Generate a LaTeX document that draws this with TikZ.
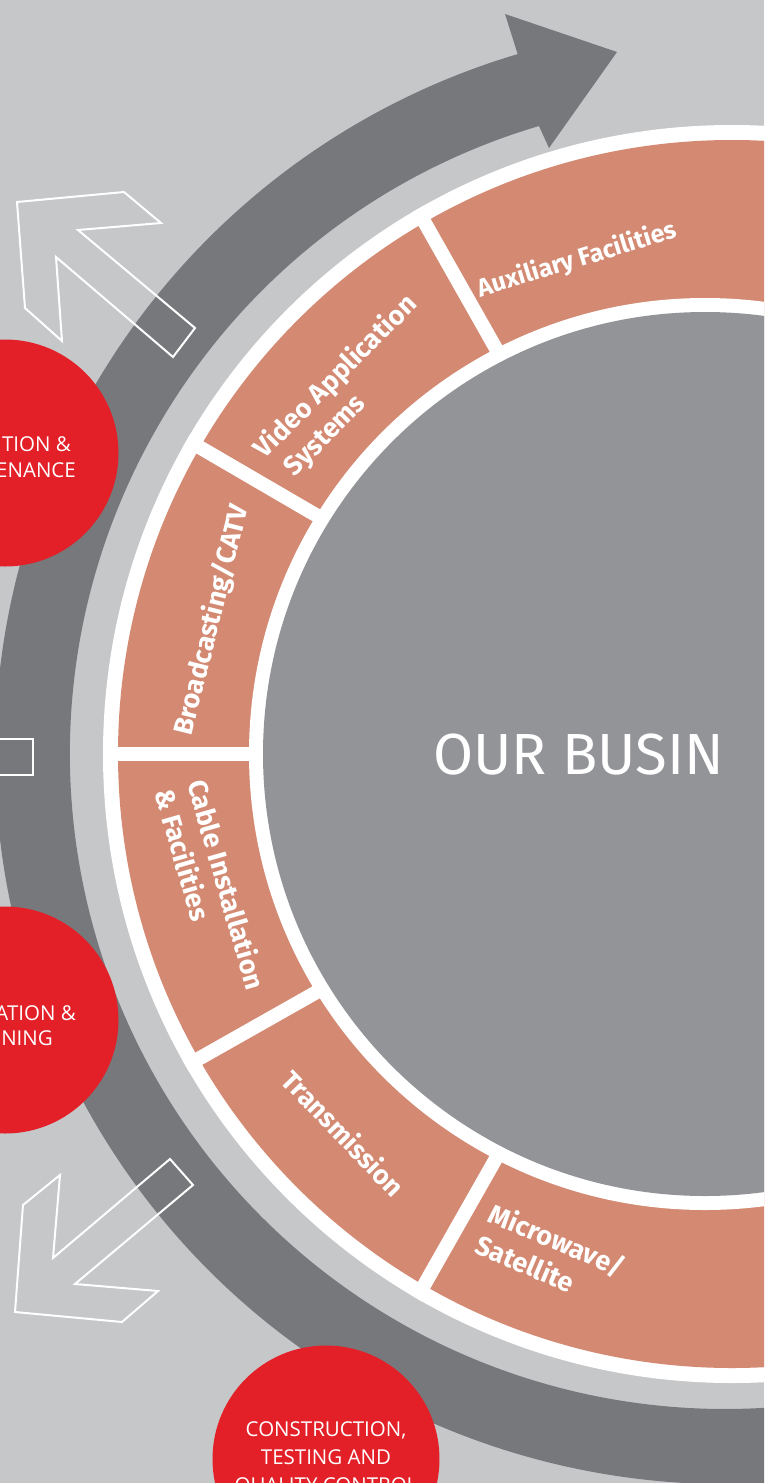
\documentclass[tikz,border=0pt]{standalone}
\usepackage{fontspec}
\setmainfont{Open Sans}
\newfontfamily\labelfont{Fira Sans}
\IfFontExistsTF{FiraSans-Light.otf}{\newfontfamily\titlefont{FiraSans-Light.otf}}{\newfontfamily\titlefont{Fira Sans}}

\definecolor{bggray}{HTML}{C6C7C9}
\definecolor{ringgray}{HTML}{77787B}
\definecolor{discgray}{HTML}{939498}
\definecolor{salmon}{HTML}{D48A72}
\definecolor{bizred}{HTML}{E31F28}

\tikzset{
  seglabel/.style={text=white, font=\labelfont\bfseries\fontsize{27}{34}\selectfont, inner sep=0pt},
  redtext/.style={text=white, font=\fontsize{20.5}{28}\selectfont, inner sep=0pt},
  redcircle/.style={circle, fill=bizred, minimum size=227pt, inner sep=0pt},
  divider/.style={white, line width=14pt},
  outline/.style={white, line width=2pt}
}

\begin{document}
\begin{tikzpicture}[x=1pt, y=-1pt]
\useasboundingbox (0,0) rectangle (764,1483);
\clip (0,0) rectangle (764,1483);
\fill[bggray] (0,0) rectangle (764,1483);

% big curved arrow
\fill[ringgray] ([shift={(725,754)}]60:730) arc[start angle=60, end angle=253.5, radius=730]
  -- (505,14) -- (617,52) -- (549,148)
  -- ([shift={(725,754)}]253.5:655) arc[start angle=253.5, end angle=60, radius=655] -- cycle;

% hollow arrows on the left
\draw[outline] (17,202) -- (124,192) -- (161,223) -- (78,230) -- (195,328)
  -- (173,357) -- (56,257) -- (62,341) -- (25,308) -- cycle;
\draw[outline] (170,1159) -- (193,1185) -- (75,1284) -- (158,1291) -- (122,1322)
  -- (15,1312) -- (23,1205) -- (60,1175) -- (53,1258) -- cycle;
\draw[outline] (-5,739) rectangle (33,775);

% red circles
\node[redcircle] (omc) at (5,453) {};
\node[redcircle] (edc) at (5,1020) {};
\node[redcircle, redtext, align=center] (qc) at (326,1459) {CONSTRUCTION,\\TESTING AND\\QUALITY CONTROL};
\node[redtext, anchor=base east] (om1) at (71,451) {TION \&};
\node[redtext, anchor=base east] (om2) at (76,477) {ENANCE};
\node[redtext, anchor=base east] (ed1) at (76,1020) {ATION \&};
\node[redtext, anchor=base east] (ed2) at (53,1045) {INING};

% segment ring
\fill[white] (732,754) circle (629);
\fill[salmon] (732,754) circle (614);
\begin{scope}
\clip (732,754) circle (629);
\draw[divider] (400,179) -- (520,391);
\draw[divider] (170,430) -- (345,532);
\draw[divider] (90,754) -- (280,754);
\draw[divider] (170,1075) -- (345,976);
\draw[divider] (410,1310) -- (515,1125);
\end{scope}
\fill[white] (705,754) circle (456);
\fill[discgray] (705,754) circle (442);

\node[seglabel, rotate=17, font=\labelfont\bfseries\fontsize{25}{32}\selectfont] (aux) at (577,260) {Auxiliary Facilities};
\node[seglabel, rotate=45, align=left] (video) at (348,389) {Video Application\\\hspace{8pt}Systems};
\node[seglabel, rotate=76] (catv) at (212,620) {Broadcasting/CATV};
\node[seglabel, rotate=-74, align=left] (cable) at (211,889) {Cable Installation\\\& Facilities};
\node[seglabel, rotate=-46] (trans) at (344,1133) {Transmission};
\node[seglabel, rotate=-23, align=left] (micro) at (551,1255) {Microwave/\\Satellite};

\node[anchor=base west, inner sep=0pt, text=white, font=\titlefont\fontsize{58}{62}\selectfont] (title) at (433,774) {OUR BUSIN};
\end{tikzpicture}
\end{document}
